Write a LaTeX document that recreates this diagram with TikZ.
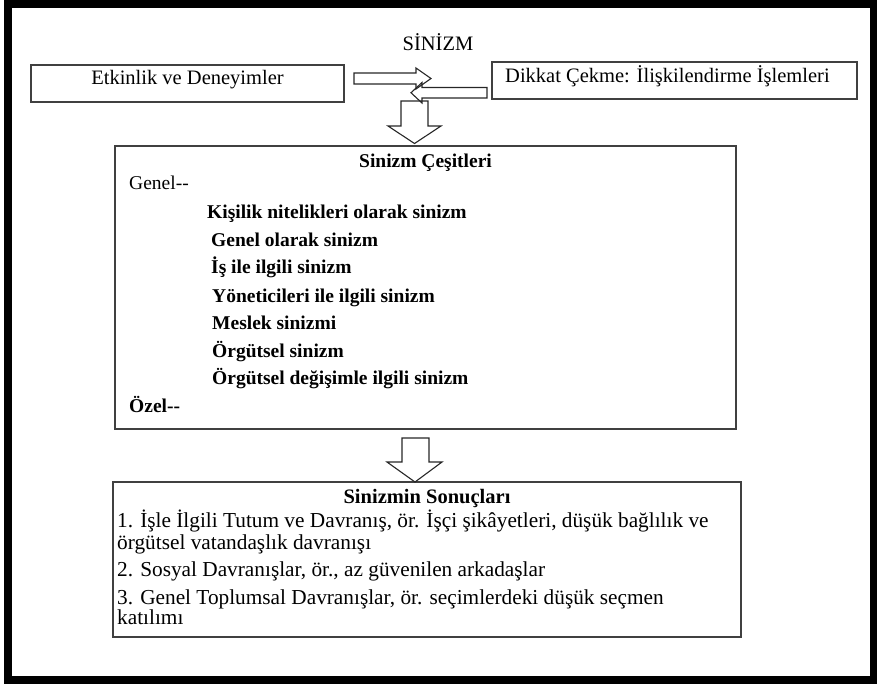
\documentclass[tikz,border=0pt]{standalone}
\usepackage{fontspec}
\setmainfont{Liberation Serif}
\begin{document}
\begin{tikzpicture}[x=1pt,y=-1pt,
  box/.style={draw=black!75, line width=1.3pt, inner sep=0pt},
  blockarrow/.style={draw=black!85, line width=1.1pt, line join=miter},
  toptxt/.style={inner sep=0pt, font=\fontsize{20.5}{23}\selectfont},
  txt/.style={inner sep=0pt, anchor=base west, font=\fontsize{19.5}{22}\selectfont},
  txtb/.style={inner sep=0pt, anchor=base west, font=\fontsize{19.5}{22}\selectfont\bfseries},
  ltxt/.style={inner sep=0pt, anchor=base west, font=\fontsize{21.3}{23}\selectfont},
  ttl/.style={inner sep=0pt, anchor=base, font=\fontsize{19.5}{22}\selectfont\bfseries}
]
\useasboundingbox (0,0) rectangle (877,683);
\draw[line width=8pt] (8,4) rectangle (873.5,679.5);

% boxes
\node[box, minimum width=313pt, minimum height=37pt] (etk) at (187.5,83.5) {};
\node[box, minimum width=365pt, minimum height=37pt] (dik) at (674.5,80.5) {};
\node[box, minimum width=621pt, minimum height=283pt] (cesit) at (425.5,287.5) {};
\node[box, minimum width=628pt, minimum height=155pt] (sonuc) at (427,559.5) {};

% top texts
\node[toptxt] (baslik) at (438,42) {SİNİZM};
\node[toptxt] (etkT) at (187.5,80) {Etkinlik ve Deneyimler};
\node[toptxt, anchor=west] (dikT) at (505,76) {Dikkat Çekme: İlişkilendirme İşlemleri};

% block arrows
\draw[blockarrow] (354,73) -- (416,73) -- (416,68) -- (431,78.5) -- (416,89) -- (416,84) -- (354,84) -- cycle;
\draw[blockarrow] (487,87.5) -- (422,87.5) -- (422,82.5) -- (411,92.75) -- (422,103) -- (422,98) -- (487,98) -- cycle;
\draw[blockarrow] (401,101) -- (428,101) -- (428,126) -- (441,126) -- (414.5,143.5) -- (388,126) -- (401,126) -- cycle;
\draw[blockarrow] (402,438) -- (429,438) -- (429,462) -- (442,462) -- (415,482) -- (387,462) -- (402,462) -- cycle;

% main box text
\node[ttl] (cT) at (425.5,167) {Sinizm Çeşitleri};
\node[txt] (genel) at (129,189) {Genel{-}{-}};
\node[txtb] (i1) at (207,218.7) {Kişilik nitelikleri olarak sinizm};
\node[txtb] (i2) at (211,246.7) {Genel olarak sinizm};
\node[txtb] (i3) at (211,273.7) {İş ile ilgili sinizm};
\node[txtb] (i4) at (212,302) {Yöneticileri ile ilgili sinizm};
\node[txtb] (i5) at (212,329) {Meslek sinizmi};
\node[txtb] (i6) at (212,357) {Örgütsel sinizm};
\node[txtb] (i7) at (212,384) {Örgütsel değişimle ilgili sinizm};
\node[txtb] (ozel) at (129,412.7) {Özel{-}{-}};

% lower box text
\node[ttl, font=\fontsize{20.5}{22}\selectfont\bfseries] (sT) at (427,503) {Sinizmin Sonuçları};
\node[ltxt] (s1a) at (117,527) {1. İşle İlgili Tutum ve Davranış, ör. İşçi şikâyetleri, düşük bağlılık ve};
\node[ltxt] (s1b) at (117,549) {örgütsel vatandaşlık davranışı};
\node[ltxt] (s2) at (117,576) {2. Sosyal Davranışlar, ör., az güvenilen arkadaşlar};
\node[ltxt] (s3a) at (117,604) {3. Genel Toplumsal Davranışlar, ör. seçimlerdeki düşük seçmen};
\node[ltxt] (s3b) at (117,624) {katılımı};
\end{tikzpicture}
\end{document}
